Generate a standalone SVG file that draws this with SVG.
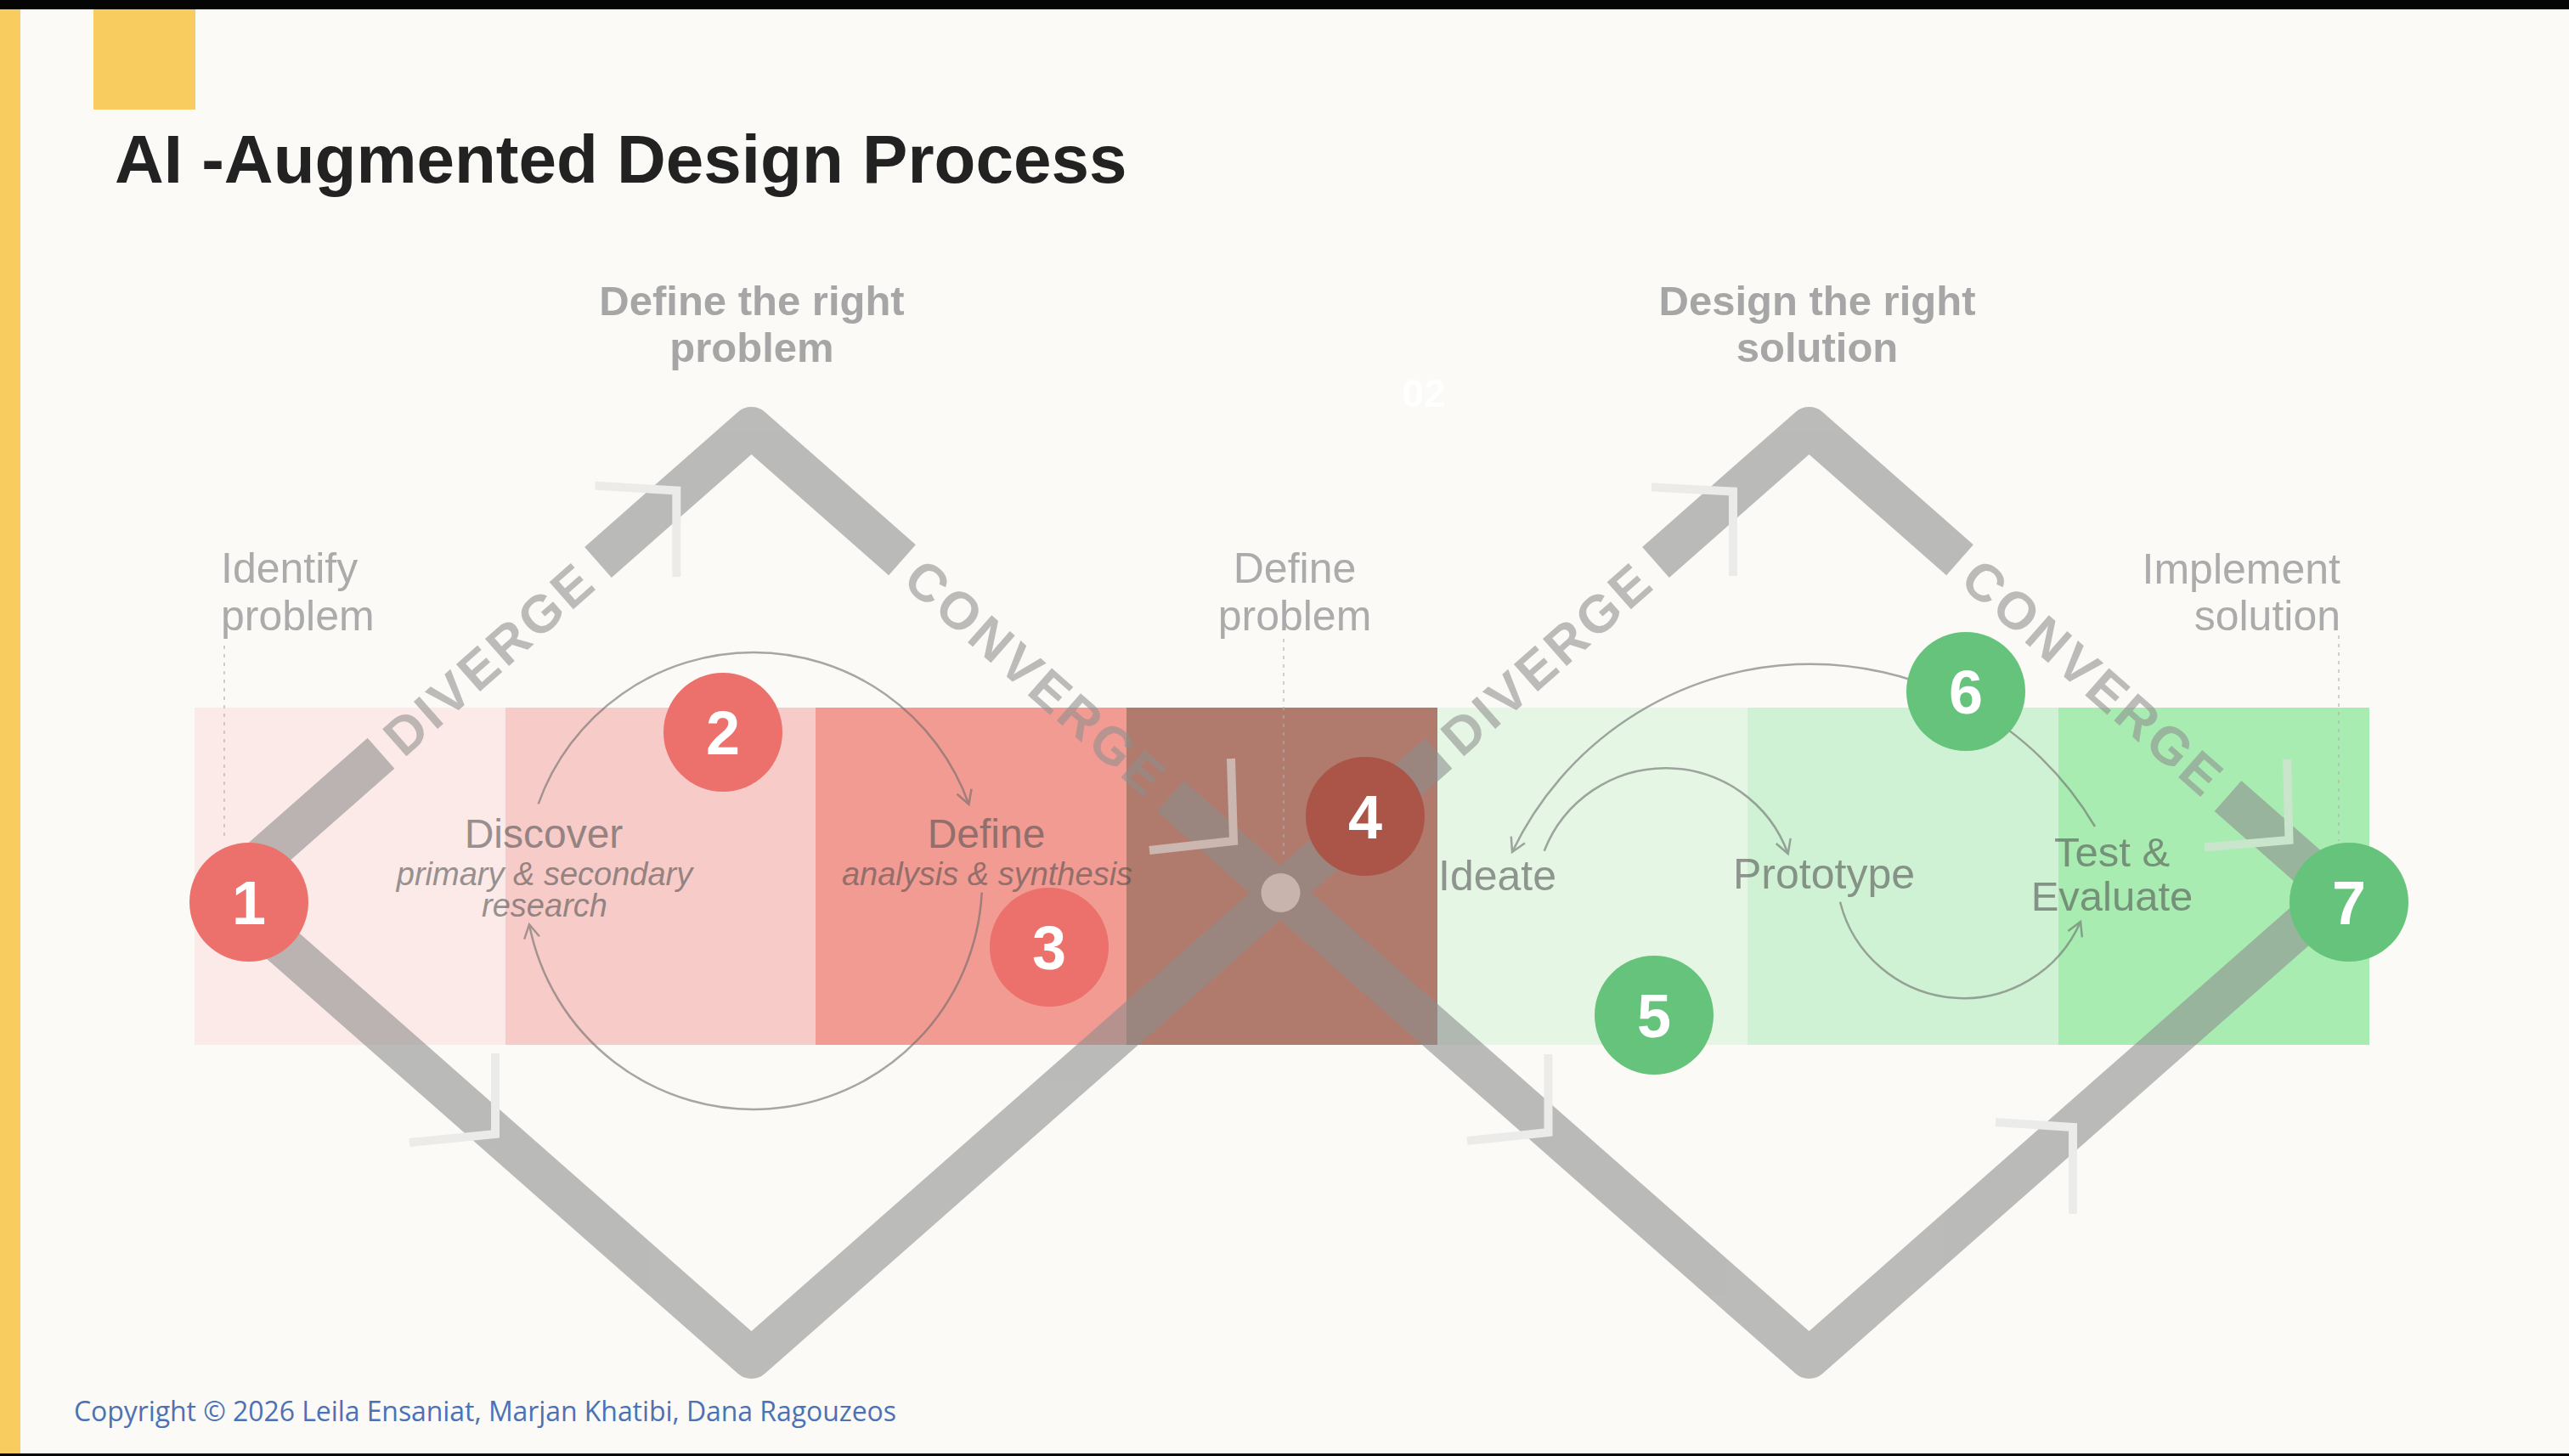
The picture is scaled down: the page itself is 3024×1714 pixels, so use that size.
<svg xmlns="http://www.w3.org/2000/svg" width="3024" height="1714" viewBox="0 0 3024 1714">
<defs>
<style>
.sans{font-family:"Liberation Sans",Arial,sans-serif}
.band-label{font-family:"Liberation Sans",Arial,sans-serif;fill:#505050;font-size:48px}
.band-sub{font-family:"Liberation Sans",Arial,sans-serif;fill:#505050;font-size:38px;font-style:italic}
.top-label{font-family:"Liberation Sans",Arial,sans-serif;fill:#ababab;font-size:50px}
.header{font-family:"Liberation Sans",Arial,sans-serif;fill:#a6a6a6;font-size:49px;font-weight:bold}
.dir{font-family:"Liberation Sans",Arial,sans-serif;fill:#8f8f8f;font-size:62px;font-weight:bold;letter-spacing:4px}
.line{fill:none;stroke:#8d8d8d;stroke-width:48;stroke-linejoin:round;stroke-linecap:butt}
.chev{fill:none;stroke:#e1e1e1;stroke-width:10;stroke-linejoin:miter}
.dots{stroke:#b1b1b1;stroke-width:2;stroke-dasharray:4 6}
.arc{fill:none;stroke:#6a6a6a;stroke-width:2.5;marker-end:url(#ah)}
.num{font-family:"Liberation Sans",Arial,sans-serif;font-weight:bold;font-size:72px;fill:#ffffff;text-anchor:middle}
.red{fill:#ec716c}
.dark{fill:#ab5448}
.green{fill:#66c37b}
</style>
<marker id="ah" viewBox="-20 -12 24 24" markerWidth="24" markerHeight="24" refX="0" refY="0" orient="auto" markerUnits="userSpaceOnUse">
<path d="M-16,-9 L0,0 L-16,9" fill="none" stroke="#6a6a6a" stroke-width="2.5"/>
</marker>
</defs>

<rect x="0" y="0" width="3024" height="1714" fill="#fbfaf6"/>
<g id="frame">
<rect x="0" y="0" width="24" height="1714" fill="#f8cc5e"/>
<rect x="110" y="11" width="120" height="118" fill="#f8cc5e"/>
<rect x="0" y="0" width="3024" height="11" fill="#050505"/>
<rect x="0" y="1711" width="3024" height="3" fill="#050505"/>
</g>

<text id="title" class="sans" x="135" y="215" font-size="80" font-weight="bold" fill="#222222">AI -Augmented Design Process</text>

<g id="band">
<rect x="229" y="833" width="366" height="397" fill="#fbeae7"/>
<rect x="595" y="833" width="365" height="397" fill="#f7ccc8"/>
<rect x="960" y="833" width="366" height="397" fill="#f19b93"/>
<rect x="1326" y="833" width="366" height="397" fill="#b07b6d"/>
<rect x="1692" y="833" width="365" height="397" fill="#e5f6e5"/>
<rect x="2057" y="833" width="366" height="397" fill="#cff2d4"/>
<rect x="2423" y="833" width="366" height="397" fill="#a9ecb1"/>
</g>

<g id="double-diamond" opacity="0.58">
<line class="dots" x1="264" y1="760" x2="264" y2="990"/>
<line class="dots" x1="1511" y1="752" x2="1511" y2="1010"/>
<line class="dots" x1="2753" y1="748" x2="2753" y2="990"/>
<path class="line" d="M448.5,886.8 L262,1051 L884.5,1599 L1507,1051 L1693.5,886.8"/>
<path class="line" d="M704,661.9 L884.5,503 L1062,659.3"/>
<path class="line" d="M1377.5,937 L1507,1051 L2129.5,1599 L2752,1051 L2622.5,937"/>
<path class="line" d="M1949,661.9 L2129.5,503 L2307,659.3"/>
<circle cx="1507.5" cy="1051" r="23" fill="#dcdcdc"/>
<text class="dir" text-anchor="middle" transform="translate(576,775) rotate(-41.36)" x="0" y="22">DIVERGE</text>
<text class="dir" text-anchor="middle" transform="translate(1220,798) rotate(41.36)" x="0" y="22">CONVERGE</text>
<text class="dir" text-anchor="middle" transform="translate(1821,775) rotate(-41.36)" x="0" y="22">DIVERGE</text>
<text class="dir" text-anchor="middle" transform="translate(2464.5,798) rotate(41.36)" x="0" y="22">CONVERGE</text>
<path class="chev" d="M700.6,571.7 L796.3,577.5 L796.3,678.9"/>
<path class="chev" d="M1449,893 L1452,990 L1353,1001"/>
<path class="chev" d="M583,1240 L583,1335 L482,1345"/>
<path class="chev" d="M1944,573.5 L2040,578.6 L2040,678"/>
<path class="chev" d="M2692,894 L2694.5,989 L2595,997.5"/>
<path class="chev" d="M1822.5,1241 L1822.5,1333 L1727,1343"/>
<path class="chev" d="M2349,1321 L2440,1327 L2440,1429"/>
<g id="label-discover">
<text class="band-label" x="640" y="998" text-anchor="middle">Discover</text>
<text class="band-sub" x="641" y="1042" text-anchor="middle">primary &amp; secondary</text>
<text class="band-sub" x="641" y="1079" text-anchor="middle">research</text>
</g>
<g id="label-define">
<text class="band-label" x="1161" y="998" text-anchor="middle">Define</text>
<text class="band-sub" x="1162" y="1042" text-anchor="middle">analysis &amp; synthesis</text>
</g>
<g id="label-ideate"><text class="band-label" x="1693" y="1048" style="font-size:50px">Ideate</text></g>
<g id="label-prototype"><text class="band-label" x="2147" y="1046" text-anchor="middle" style="font-size:50px">Prototype</text></g>
<g id="label-test">
<text class="band-label" x="2486" y="1020" text-anchor="middle" style="font-size:49px">Test &amp;</text>
<text class="band-label" x="2486" y="1072" text-anchor="middle" style="font-size:49px">Evaluate</text>
</g>
</g>

<g id="connectors" opacity="0.58">
<path class="arc" d="M633.7,946.3 A269,269 0 0 1 1140.4,946.8"/>
<path class="arc" d="M1155.7,1050.6 A269,269 0 0 1 623,1088.3"/>
<path class="arc" d="M2466,973 A389,389 0 0 0 1780,1003"/>
<path class="arc" d="M1817.7,1001.7 A153.4,153.4 0 0 1 2104.7,1005"/>
<path class="arc" d="M2166,1061.7 A150,150 0 0 0 2449,1085"/>
</g>

<g id="top-labels">
<g id="identify-problem">
<text class="top-label" x="260" y="686">Identify</text>
<text class="top-label" x="260" y="742">problem</text>
</g>
<g id="define-problem">
<text class="top-label" x="1524" y="686" text-anchor="middle">Define</text>
<text class="top-label" x="1524" y="742" text-anchor="middle">problem</text>
</g>
<g id="implement-solution">
<text class="top-label" x="2755" y="687" text-anchor="end">Implement</text>
<text class="top-label" x="2755" y="742" text-anchor="end">solution</text>
</g>
<g id="header-problem">
<text class="header" x="885" y="371" text-anchor="middle">Define the right</text>
<text class="header" x="885" y="426" text-anchor="middle">problem</text>
</g>
<g id="header-solution">
<text class="header" x="2139" y="371" text-anchor="middle">Design the right</text>
<text class="header" x="2139" y="426" text-anchor="middle">solution</text>
</g>
<text id="stage-02" class="sans" x="1676" y="479" text-anchor="middle" font-size="46" font-weight="bold" fill="#ffffff">02</text>
</g>

<g id="node-1"><circle class="red" cx="293" cy="1062" r="70"/><text class="num" x="293" y="1088">1</text></g>
<g id="node-2"><circle class="red" cx="851" cy="862" r="70"/><text class="num" x="851" y="888">2</text></g>
<g id="node-3"><circle class="red" cx="1235" cy="1115" r="70"/><text class="num" x="1235" y="1141">3</text></g>
<g id="node-4"><circle class="dark" cx="1607" cy="961" r="70"/><text class="num" x="1607" y="987">4</text></g>
<g id="node-5"><circle class="green" cx="1947" cy="1195" r="70"/><text class="num" x="1947" y="1221">5</text></g>
<g id="node-6"><circle class="green" cx="2314" cy="814" r="70"/><text class="num" x="2314" y="840">6</text></g>
<g id="node-7"><circle class="green" cx="2765" cy="1062" r="70"/><text class="num" x="2765" y="1088">7</text></g>

<text id="copyright" x="87" y="1673" font-family="'Open Sans','Liberation Sans',Arial,sans-serif" font-size="32" textLength="968" lengthAdjust="spacing" fill="#4a72b5">Copyright © 2026 Leila Ensaniat, Marjan Khatibi, Dana Ragouzeos</text>
</svg>
